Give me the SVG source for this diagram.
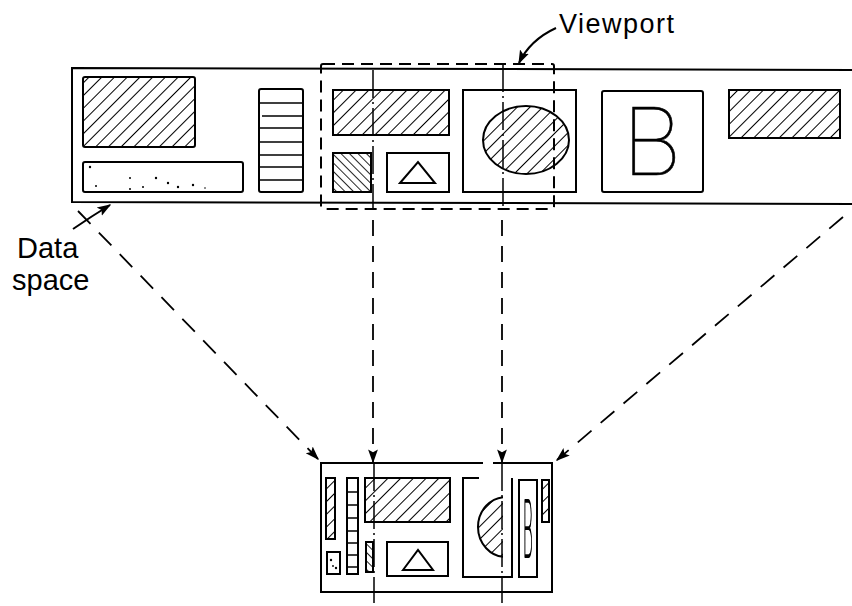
<svg xmlns="http://www.w3.org/2000/svg" width="852" height="606" viewBox="0 0 852 606">
<style>
.ln{fill:none;stroke:#000;stroke-width:2}
.box{fill:#fff;stroke:#000;stroke-width:2}
.hb{fill:url(#hatch);stroke:#000;stroke-width:2}
.hb2{fill:url(#hatch2);stroke:#000;stroke-width:2}
.thin{fill:none;stroke:#000;stroke-width:1.5}
.dash{fill:none;stroke:#000;stroke-width:1.8;stroke-dasharray:18 12}
.vdash{fill:none;stroke:#000;stroke-width:1.8;stroke-dasharray:16 10}
.dd{fill:none;stroke:#000;stroke-width:1.5;stroke-dasharray:28 4 2 4}
.lbl{font-family:"Liberation Sans",Arial,sans-serif;fill:#000}
.glyph{font-family:Inter,Roboto,"Liberation Sans",sans-serif;font-weight:100;fill:#000}
</style>
<defs>
<pattern id="hatch" patternUnits="userSpaceOnUse" width="9" height="9" patternTransform="rotate(45)"><line x1="0" y1="0" x2="0" y2="9" stroke="#000" stroke-width="2"/></pattern>
<pattern id="hatch2" patternUnits="userSpaceOnUse" width="6" height="6" patternTransform="rotate(-45)"><line x1="0" y1="0" x2="0" y2="6" stroke="#000" stroke-width="1.7"/></pattern>
<marker id="ahb" viewBox="0 0 10 10" refX="9" refY="5" markerWidth="14" markerHeight="14" orient="auto" markerUnits="userSpaceOnUse"><path d="M0,1.5 L10,5 L0,8.5 L2,5 Z" fill="#000"/></marker>
<clipPath id="halfEll"><rect x="470" y="490" width="33" height="75"/></clipPath>
<filter id="gray" x="-0.5" y="-0.2" width="2" height="1.4"><feColorMatrix type="saturate" values="0"/></filter>
</defs>

<g id="data-space">
<path class="ln" d="M852,70 L72,68 L72,202 L852,204"/>
<rect class="hb" x="83" y="77" width="112" height="70" rx="2"/>
<rect class="box" x="83" y="162" width="160" height="30" rx="2"/>
<g fill="#000"><circle cx="90" cy="167" r="1.2"/><circle cx="96" cy="186" r="1"/><circle cx="130" cy="189" r="1"/><circle cx="130" cy="178" r="1"/><circle cx="156" cy="178" r="1.2"/><circle cx="143" cy="187" r="1"/><circle cx="168" cy="183" r="1.2"/><circle cx="178" cy="187" r="1.2"/><circle cx="193" cy="185" r="1.2"/><circle cx="205" cy="188" r="0.8"/></g>
<rect class="box" x="259" y="89" width="44" height="103" rx="2"/>
<path class="thin" d="M259,103H303M262,116H303M259,128H303M259,142H303M259,155H303M259,167H303M259,180H303"/>
<rect class="hb" x="333" y="90" width="116" height="45"/>
<rect class="hb2" x="333" y="153" width="38" height="39"/>
<rect class="box" x="387" y="153" width="62" height="39"/>
<path class="ln" d="M400,183 L418,162 L435,183 Z"/>
<rect class="box" x="463" y="90" width="113" height="102"/>
<ellipse class="hb" cx="526" cy="140" rx="43" ry="34"/>
<rect class="box" x="602" y="91" width="101" height="101" rx="2"/>
<text class="glyph" x="622" y="175" font-size="94" stroke="#000" stroke-width="0.6">B</text>
<rect class="hb" x="729" y="90" width="111" height="48"/>
</g>

<g id="viewport">
<rect x="321" y="64" width="233" height="145" rx="2" fill="none" stroke="#000" stroke-width="2" stroke-dasharray="12 7"/>
<path class="dd" d="M373,70 V209 M503,64 V209"/>
</g>

<g id="display">
<path class="ln" d="M483,463 H321 V592 H552 V463 H493"/>
<rect class="hb" x="326" y="478" width="9" height="61"/>
<rect class="box" x="327" y="552" width="13" height="22"/>
<g fill="#000"><circle cx="331" cy="560" r="1.2"/><circle cx="336" cy="568" r="1.2"/><circle cx="333" cy="566" r="0.9"/></g>
<rect class="box" x="347" y="478" width="11" height="96"/>
<path class="thin" d="M347,492H358M347,505H358M347,518H358M347,531H358M347,543H358M347,555H358M347,567H358"/>
<rect class="hb" x="365" y="478" width="85" height="44"/>
<rect class="hb2" x="366" y="542" width="7" height="30"/>
<rect class="box" x="387" y="542" width="61" height="34"/>
<path class="ln" d="M403,570 L418,550 L433,570 Z"/>
<path class="ln" d="M479,478 H463 V577 H512 V478"/>
<ellipse cx="506" cy="527" rx="28" ry="30" fill="url(#hatch)" stroke="#000" stroke-width="2" clip-path="url(#halfEll)"/>
<rect class="box" x="519" y="480" width="18" height="97"/>
<g filter="url(#gray)"><text class="glyph" x="0" y="0" font-size="78" transform="translate(523,557) scale(0.2,1)" stroke="#000" stroke-width="1.3" vector-effect="non-scaling-stroke">B</text></g>
<rect class="hb" x="542" y="480" width="7" height="42"/>
</g>

<g id="connectors">
<path class="dd" d="M374,463 V603 M502,463 V603"/>
<path class="vdash" d="M373,220 V462" marker-end="url(#ahb)"/>
<path class="vdash" d="M502,220 V462" marker-end="url(#ahb)"/>
<path class="dash" d="M78,211 L318,459" marker-end="url(#ahb)"/>
<path class="dash" d="M843,217 L557,460" marker-end="url(#ahb)"/>
<path fill="none" stroke="#000" stroke-width="2" d="M73,229 Q92,216 110,205" marker-end="url(#ahb)"/>
<path fill="none" stroke="#000" stroke-width="2" d="M556,28 Q530,40 519,63" marker-end="url(#ahb)"/>
</g>

<g id="labels">
<text class="lbl" x="559" y="33" font-size="27" letter-spacing="1.5">Viewport</text>
<text class="lbl" x="17" y="258" font-size="29">Data</text>
<text class="lbl" x="12" y="290" font-size="29">space</text>
</g>
</svg>
